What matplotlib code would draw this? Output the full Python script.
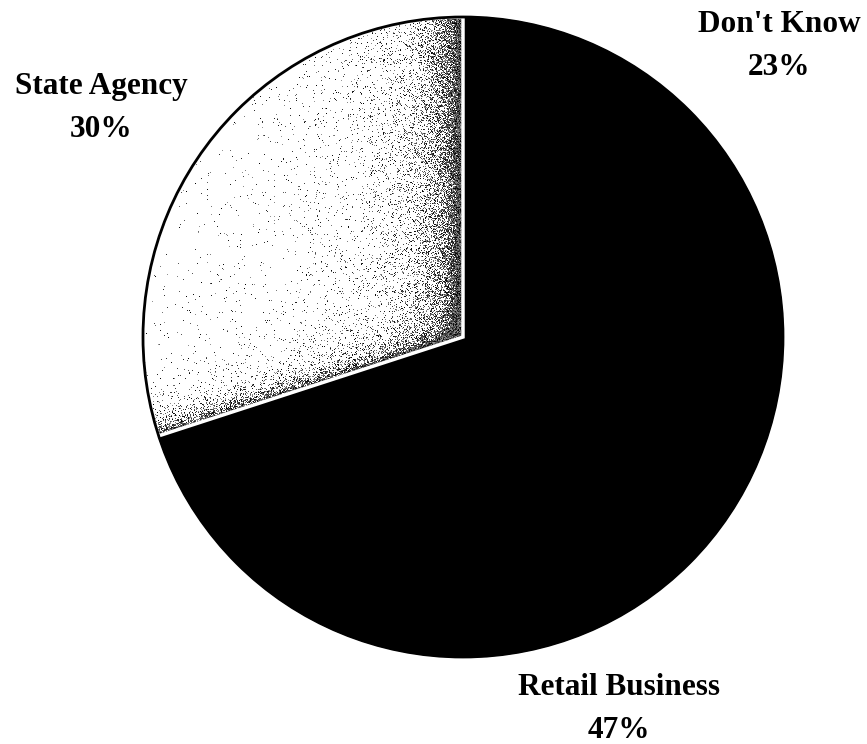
import numpy as np
import matplotlib.pyplot as plt
from matplotlib.patches import Circle

labels = ["Don't Know", "Retail Business", "State Agency"]
shares = [23, 47, 30]
colors = ["black", "black", "white"]

plt.rcParams["font.family"] = ["Liberation Serif", "DejaVu Serif"]

fig = plt.figure(figsize=(8.67, 7.44), dpi=100)
ax = fig.add_axes([0, 0, 1, 1])

cx, cy, r = 463, 407, 320
wedges, _ = ax.pie(shares, colors=colors, startangle=90, counterclock=False,
                   center=(cx, cy), radius=r, frame=True,
                   wedgeprops=dict(linewidth=1, edgecolor="black"))
ax.set_xlim(0, 867)
ax.set_ylim(0, 744)
ax.set_aspect("equal")
ax.axis("off")

# stippled fill for the light slice, densest along its two straight edges
sa = wedges[2]
xs = np.arange(cx - r, cx + 1)
ys = np.arange(cy - r * 0.4, cy + r + 1)
X, Y = np.meshgrid(xs, ys)
d_right = cx - X
ang = np.deg2rad(90 + 360 * shares[2] / 100)
ux, uy = np.cos(ang), np.sin(ang)
d_low = np.abs((X - cx) * uy - (Y - cy) * ux)
dens = (0.95 * np.exp(-d_right / 18.0) + 0.3 * np.exp(-d_right / 45.0)
        + 0.045 * np.exp(-d_right / 160.0)
        + 0.9 * np.exp(-d_low / 7.0) + 0.2 * np.exp(-d_low / 20.0))
dens = np.clip(dens, 0, 1)
rng = np.random.default_rng(7)
dots = rng.random(dens.shape) < dens
shade = np.where(dots, rng.uniform(0.0, 0.6, dens.shape), 1.0)
img = ax.imshow(shade, cmap="gray", vmin=0, vmax=1, origin="lower",
                extent=(xs[0] - 0.5, xs[-1] + 0.5, ys[0] - 0.5, ys[-1] + 0.5),
                zorder=2, interpolation="nearest")
img.set_clip_path(sa)
sa.set_edgecolor("white")
sa.set_linewidth(2.5)
sa.set_zorder(3)
sa.set_facecolor("none")

ax.add_patch(Circle((cx, cy), r, fill=False, edgecolor="black", linewidth=2, zorder=4))

font = dict(fontsize=22.5, fontweight="bold", ha="center", va="center", linespacing=1.6)
ax.text(779, 744 - 46, "Don't Know\n23%", **font)
ax.text(101, 744 - 108, "State Agency\n30%", **font)
ax.text(619, 744 - 709, "Retail Business\n47%", **font)

fig.savefig("out.png", dpi=100)
